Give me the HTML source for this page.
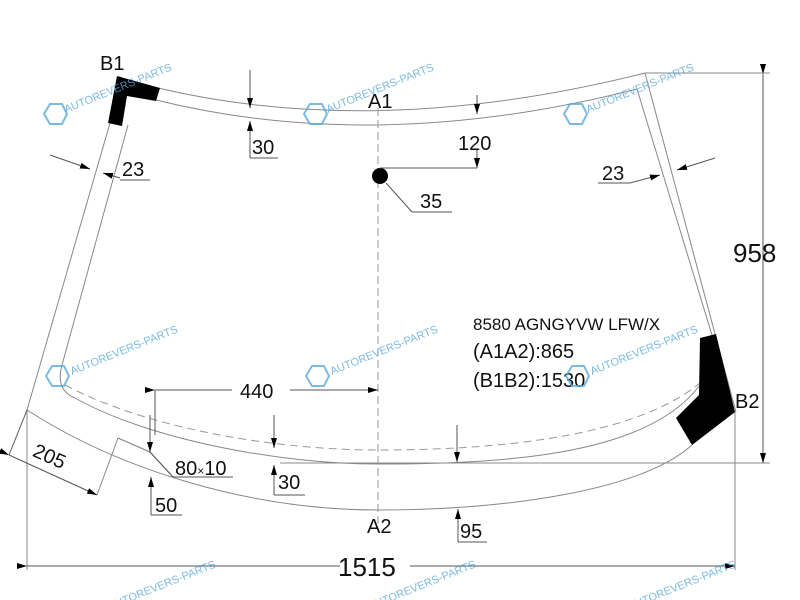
<!DOCTYPE html>
<html><head><style>
body{margin:0;background:#fff;}
svg{display:block;font-family:"Liberation Sans",Arial,sans-serif;}
</style></head><body>
<svg width="800" height="600" viewBox="0 0 800 600" xmlns="http://www.w3.org/2000/svg">
<defs>
<marker id="ar" markerWidth="10" markerHeight="6" refX="10" refY="3" orient="auto" markerUnits="userSpaceOnUse"><path d="M0,0 L10,3 L0,6 z" fill="#000"/></marker>
</defs>
<g fill="none" stroke="#888" stroke-width="1">
<path d="M158,88 Q378,140 645,73"/>
<path d="M156,100 Q378,155 637,89"/>
<path d="M110,123 L27,410"/>
<path d="M128,125 L62,365 Q55,390 75,398"/>
<path d="M645,73 L736,412"/>
<path d="M637,89 L712,335"/>
<path d="M27,410 C120,470 250,510 378,510 C500,510 640,492 692,445"/>
<path d="M75,398 C150,440 280,464 378,464 C520,464 650,452 700,385"/>
<path d="M150,452 L118,438 L97,495"/>
<path d="M118,438 L150,452 L173,477"/>
<path d="M27,410 L27,570"/>
<path d="M735,412 L735,570"/>
<path d="M280,463 L770,463"/>
<path d="M645,73 L770,73"/>
</g>
<path d="M65,385 C150,430 280,450 378,450 C520,450 640,432 700,383" fill="none" stroke="#999" stroke-dasharray="8,5"/>
<line x1="378" y1="108" x2="378" y2="530" stroke="#999" stroke-dasharray="8,4"/>
<path d="M108,123 L117,76 L160,88 L156,101 L127,96 L122,126 z" fill="#000"/>
<path d="M700,338 L716,334 L735,412 L692,445 L676,418 L699,395 z" fill="#000"/>
<circle cx="380" cy="176" r="8" fill="#000"/>
<g stroke="#555" stroke-width="1" fill="none">
<line x1="763" y1="74" x2="763" y2="463" marker-start="url(#ar)" marker-end="url(#ar)"/>
<line x1="27" y1="566" x2="340" y2="566" marker-start="url(#ar)"/>
<line x1="410" y1="566" x2="735" y2="566" marker-end="url(#ar)"/>
<line x1="155" y1="390" x2="232" y2="390" marker-start="url(#ar)"/>
<line x1="290" y1="390" x2="378" y2="390" marker-end="url(#ar)"/>
<line x1="155" y1="390" x2="155" y2="435"/>
<line x1="150" y1="415" x2="150" y2="452" marker-end="url(#ar)"/>
<line x1="150" y1="452" x2="173" y2="477"/><line x1="173" y1="477" x2="233" y2="477"/>
<line x1="274" y1="415" x2="274" y2="448" marker-end="url(#ar)"/>
<line x1="274" y1="495" x2="274" y2="465" marker-end="url(#ar)"/>
<line x1="274" y1="495" x2="305" y2="495"/>
<line x1="151" y1="515" x2="151" y2="477" marker-end="url(#ar)"/>
<line x1="151" y1="515" x2="182" y2="515"/>
<line x1="250" y1="70" x2="250" y2="108" marker-end="url(#ar)"/>
<line x1="250" y1="158" x2="250" y2="121" marker-end="url(#ar)"/>
<line x1="250" y1="158" x2="278" y2="158"/>
<line x1="477" y1="95" x2="477" y2="114" marker-end="url(#ar)"/>
<line x1="477" y1="150" x2="477" y2="168" marker-end="url(#ar)"/>
<line x1="380" y1="168" x2="477" y2="168"/>
<line x1="386" y1="183" x2="412" y2="212"/><line x1="412" y1="212" x2="452" y2="212"/>
<line x1="50" y1="155" x2="90" y2="169" marker-end="url(#ar)"/>
<line x1="120" y1="178" x2="103" y2="173" marker-end="url(#ar)"/>
<line x1="120" y1="180" x2="150" y2="180"/>
<line x1="715" y1="158" x2="677" y2="170" marker-end="url(#ar)"/>
<line x1="630" y1="183" x2="660" y2="175" marker-end="url(#ar)"/>
<line x1="598" y1="183" x2="630" y2="183"/>
<line x1="457" y1="425" x2="457" y2="462" marker-end="url(#ar)"/>
<line x1="458" y1="542" x2="458" y2="509" marker-end="url(#ar)"/>
<line x1="458" y1="542" x2="487" y2="542"/>
<line x1="9" y1="455" x2="97" y2="495" marker-start="url(#ar)" marker-end="url(#ar)"/>
<line x1="9" y1="455" x2="27" y2="410"/>
</g>
<g fill="#111" font-size="20">
<text x="100" y="70">B1</text>
<text x="368" y="108">A1</text>
<text x="252" y="154">30</text>
<text x="122" y="176">23</text>
<text x="458" y="150">120</text>
<text x="420" y="208">35</text>
<text x="602" y="180">23</text>
<text x="735" y="408">B2</text>
<text x="367" y="533">A2</text>
<text x="240" y="398">440</text>
<text x="175" y="475">80<tspan font-size="12">×</tspan>10</text>
<text x="278" y="489">30</text>
<text x="155" y="512">50</text>
<text x="460" y="538">95</text>
<text x="30" y="463" transform="rotate(24 48 463)">205</text>
</g>
<text x="733" y="262" font-size="26" fill="#111">958</text>
<text x="338" y="576" font-size="26" fill="#111">1515</text>
<text x="473" y="330" font-size="17" fill="#111">8580 AGNGYVW LFW/X</text>
<text x="473" y="358" font-size="20" fill="#111">(A1A2):865</text>
<text x="473" y="387" font-size="20" fill="#111">(B1B2):1530</text>
<g fill="#5aa9dc" font-size="11" opacity="0.8">
<text x="66" y="113" transform="rotate(-22 66 113)">AUTOREVERS-PARTS</text>
<text x="328" y="113" transform="rotate(-22 328 113)">AUTOREVERS-PARTS</text>
<text x="588" y="113" transform="rotate(-22 588 113)">AUTOREVERS-PARTS</text>
<text x="72" y="375" transform="rotate(-22 72 375)">AUTOREVERS-PARTS</text>
<text x="332" y="375" transform="rotate(-22 332 375)">AUTOREVERS-PARTS</text>
<text x="592" y="375" transform="rotate(-22 592 375)">AUTOREVERS-PARTS</text>
<text x="110" y="610" transform="rotate(-22 110 610)">AUTOREVERS-PARTS</text>
<text x="370" y="610" transform="rotate(-22 370 610)">AUTOREVERS-PARTS</text>
<text x="630" y="610" transform="rotate(-22 630 610)">AUTOREVERS-PARTS</text>
</g>
<g fill="none" stroke="#5aa9dc" stroke-width="2" opacity="0.8">
<polygon points="44,114 50,104 62,104 67,114 62,124 50,124"/>
<polygon points="304,114 310,104 322,104 327,114 322,124 310,124"/>
<polygon points="564,114 570,104 582,104 587,114 582,124 570,124"/>
<polygon points="46,376 52,366 64,366 69,376 64,386 52,386"/>
<polygon points="306,376 312,366 324,366 329,376 324,386 312,386"/>
<polygon points="566,376 572,366 584,366 589,376 584,386 572,386"/>
</g>
</svg>
</body></html>
